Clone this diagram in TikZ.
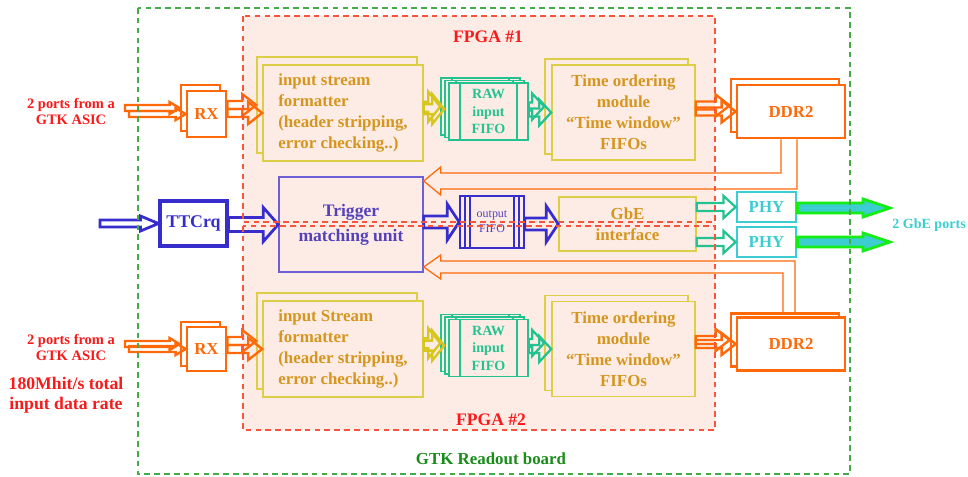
\documentclass[tikz,border=0pt]{standalone}
\usepackage{fontspec}
\setmainfont{Liberation Serif}
\usetikzlibrary{calc, positioning}
\definecolor{orng}{RGB}{255,105,10}
\definecolor{redtxt}{RGB}{250,25,25}
\definecolor{redline}{RGB}{250,85,60}
\definecolor{pinkbg}{RGB}{253,236,230}
\definecolor{bordyel}{RGB}{222,206,70}
\definecolor{arryel}{RGB}{215,198,30}
\definecolor{txtgold}{RGB}{214,150,30}
\definecolor{fifoteal}{RGB}{35,195,145}
\definecolor{blu}{RGB}{55,45,205}
\definecolor{purp}{RGB}{110,95,215}
\definecolor{purptxt}{RGB}{85,65,185}
\definecolor{cyn}{RGB}{60,205,210}
\definecolor{brightgreen}{RGB}{20,238,20}
\definecolor{boardgreen}{RGB}{25,140,25}
\definecolor{boardline}{RGB}{70,170,70}
\def\pxu{0.71131pt}
\newcommand{\fatarrow}[6][]{%
	\draw[#1] let \p1=(#2), \p2=(#3) in
		(\x1,{\y2+#4*\pxu}) -- ({\x2-#6*\pxu},{\y2+#4*\pxu}) -- ({\x2-#6*\pxu},{\y2+#5*\pxu})
		-- (\x2,\y2) -- ({\x2-#6*\pxu},{\y2-#5*\pxu}) -- ({\x2-#6*\pxu},{\y2-#4*\pxu})
		-- (\x1,{\y2-#4*\pxu}) -- cycle;}

\begin{document}
\begin{tikzpicture}[x=0.025cm, y=-0.025cm]
	\tikzstyle{every node}=[font=\bfseries\fontsize{12}{15}\selectfont, inner sep=0pt, align=center]
	\tikzstyle{fpgalabel}=[text=redtxt, font=\bfseries\fontsize{12.5}{15}\selectfont]
	\tikzstyle{boardlabel}=[text=boardgreen, font=\bfseries\fontsize{12}{15}\selectfont]
	\tikzstyle{redlabel}=[text=redtxt, font=\bfseries\fontsize{10.3}{12}\selectfont]
	\tikzstyle{ratelabel}=[text=redtxt, font=\bfseries\fontsize{12.6}{14.5}\selectfont]
	\tikzstyle{gbelabel}=[text=cyn, font=\bfseries\fontsize{10}{12}\selectfont]
	\tikzstyle{rxbox}=[draw=orng, line width=2pt, fill=white, text=orng, minimum width=0.975cm, minimum height=1.15cm]
	\tikzstyle{fmtbox}=[draw=bordyel, line width=1.1pt, fill=pinkbg, text=txtgold, align=left, minimum width=4cm, minimum height=2.4cm]
	\tikzstyle{tobox}=[draw=bordyel, line width=1.1pt, fill=pinkbg, text=txtgold, minimum width=3.575cm, minimum height=2.375cm]
	\tikzstyle{ddrbox}=[draw=orng, line width=2pt, fill=white, text=orng, minimum width=2.7cm, minimum height=1.325cm]
	\tikzstyle{fifobox}=[draw=fifoteal, line width=1.1pt, fill=pinkbg, text=fifoteal, minimum width=1.975cm, minimum height=1.425cm,
		font=\bfseries\fontsize{10}{12.4}\selectfont,
		path picture={\draw[fifoteal, line width=1.1pt]
			([xshift=0.275cm]path picture bounding box.north west) -- ([xshift=0.275cm]path picture bounding box.south west)
			([xshift=-0.275cm]path picture bounding box.north east) -- ([xshift=-0.275cm]path picture bounding box.south east);}]
	\tikzstyle{ttcbox}=[draw=blu, line width=2.2pt, fill=white, text=blu, minimum width=1.675cm, minimum height=1.125cm, font=\bfseries\fontsize{12.7}{15}\selectfont]
	\tikzstyle{trigbox}=[draw=purp, line width=1pt, fill=pinkbg, text=purptxt, minimum width=3.6cm, minimum height=2.375cm, font=\bfseries\fontsize{12.5}{17.8}\selectfont]
	\tikzstyle{ofifobox}=[draw=blu, line width=1.1pt, fill=pinkbg, text=purptxt, minimum width=1.6cm, minimum height=1.3cm,
		font=\fontsize{8.5}{10.7}\selectfont,
		path picture={\draw[blu, line width=0.9pt]
			([xshift=0.125cm]path picture bounding box.north west) -- ([xshift=0.125cm]path picture bounding box.south west)
			([xshift=0.25cm]path picture bounding box.north west) -- ([xshift=0.25cm]path picture bounding box.south west)
			([xshift=-0.125cm]path picture bounding box.north east) -- ([xshift=-0.125cm]path picture bounding box.south east)
			([xshift=-0.25cm]path picture bounding box.north east) -- ([xshift=-0.25cm]path picture bounding box.south east);}]
	\tikzstyle{gbebox}=[draw=bordyel, line width=1.1pt, fill=pinkbg, text=txtgold, minimum width=3.425cm, minimum height=1.35cm]
	\tikzstyle{phybox}=[draw=cyn, line width=2pt, fill=white, text=cyn, minimum width=1.475cm, minimum height=0.75cm]
	\tikzstyle{oarrow}=[draw=orng, line width=1.7pt]
	\tikzstyle{yarrow}=[draw=arryel, line width=1.7pt]
	\tikzstyle{tarrow}=[draw=fifoteal, line width=1.6pt]
	\tikzstyle{barrow}=[draw=blu, line width=2pt]
	\tikzstyle{garrow}=[draw=brightgreen, fill=cyn, line width=2pt]
	\tikzstyle{fb}=[draw=orng, line width=0.9pt]
	\tikzstyle{fpgaline}=[draw=redline, line width=1pt, dash pattern=on 4pt off 3pt]
	\tikzstyle{boardline}=[draw=boardline, line width=1pt, dash pattern=on 4pt off 3pt]

	\useasboundingbox (0,0) rectangle (968,476);
	\fill[pinkbg] (243,16) rectangle (715,430);

	\node[fpgalabel] (fpga1) at (488,37) {FPGA \#1};
	\node[fpgalabel] (fpga2) at (491,420) {FPGA \#2};
	\node[boardlabel] (board) at (491,459) {GTK Readout board};
	\node[redlabel] (ports1) at (71,111.5) {2 ports from a\\GTK ASIC};
	\node[redlabel] (ports2) at (71,347.5) {2 ports from a\\GTK ASIC};
	\node[ratelabel] (rate) at (66,395.5) {180Mhit/s total\\input data rate};
	\node[gbelabel] (gbeports) at (929,225) {2 GbE ports};

	\node[ttcbox] (ttc) at (193.5,223.5) {TTCrq};
	\node[trigbox] (trig) at (351,224.5) {Trigger\\matching unit};
	\node[ofifobox] (ofifo) at (492,222) {output\\FIFO};
	\node[gbebox] (gbe) at (627.5,224) {GbE\\interface};
	\node[phybox] (phy1) at (766.5,207) {PHY};
	\node[phybox] (phy2) at (766.5,242) {PHY};

	\node[ddrbox] (ddr1s) at (785,105.5) {};
	\node[ddrbox] (ddr1) at (791,111.5) {DDR2};
	\node[ddrbox] (ddr2s) at (785,340) {};
	\node[ddrbox] (ddr2) at (791,344) {DDR2};

	\draw[fb] ($(ddr1.south)+(-10,0)$) |- ($(trig.east)+(17,-51.5)$) -- ++(0,-6) -- ($(trig.east)+(0,-43.5)$)
		-- ++(17,14) -- ++(0,-6) -| ($(ddr1.south)+(6,0)$);
	\draw[fb] ($(ddr2s.north)+(10,0)$) |- ($(trig.east)+(17,36.5)$) -- ++(0,-6) -- ($(trig.east)+(0,42.5)$)
		-- ++(17,12) -- ++(0,-6) -| ($(ddr2s.north)+(-2,0)$);

	\node[rxbox] (rx1s) at (200.5,108) {};
	\node[rxbox] (rx1) at (206.5,114) {RX};
	\node[rxbox, minimum height=1.1cm] (rx2s) at (200.5,344) {};
	\node[rxbox, minimum height=1.1cm] (rx2) at (206.5,349) {RX};

	\node[fmtbox] (fmt1s) at (337,105) {};
	\node[fmtbox] (fmt1) at (343,113) {input stream\\formatter\\(header stripping,\\error checking..)};
	\node[fmtbox] (fmt2s) at (337,341) {};
	\node[fmtbox] (fmt2) at (343,349) {input Stream\\formatter\\(header stripping,\\error checking..)};

	\coordinate (raw1c) at (488.5,111.5);
	\coordinate (raw2c) at (488.5,348);
	\foreach \d in {8,4} {
		\node[fifobox] (raw1s\d) at ($(raw1c)+(-\d,-0.6*\d)$) {};
		\node[fifobox] (raw2s\d) at ($(raw2c)+(-\d,-0.6*\d)$) {};
	}
	\node[fifobox] (raw1) at (raw1c) {RAW\\input\\FIFO};
	\node[fifobox] (raw2) at (raw2c) {RAW\\input\\FIFO};

	\node[tobox] (to1s) at (616.5,106.5) {};
	\node[tobox] (to1) at (623.5,112.5) {Time ordering\\module\\``Time window''\\FIFOs};
	\node[tobox] (to2s) at (616.5,343) {};
	\node[tobox] (to2) at (623.5,349) {Time ordering\\module\\``Time window''\\FIFOs};

	\coordinate (in1a) at (125,108);
	\coordinate (in1b) at (129,114);
	\coordinate (in2a) at (125,344);
	\coordinate (in2b) at (129,349);
	\coordinate (inttc) at (100,223);
	\coordinate (out1) at (890,208);
	\coordinate (out2) at (890,242);

	\fatarrow[oarrow]{in1a}{rx1s.west}{3}{6}{10}
	\fatarrow[oarrow]{in1b}{rx1.west}{3}{6}{10}
	\fatarrow[oarrow]{in2a}{rx2s.west}{3}{6}{10}
	\fatarrow[oarrow]{in2b}{rx2.west}{3}{6}{10}
	\fatarrow[oarrow]{rx1.east}{fmt1s.west}{4}{11}{14}
	\fatarrow[oarrow]{rx1.east}{fmt1.west}{4}{11}{14}
	\fatarrow[oarrow]{rx2.east}{fmt2s.west}{4}{11}{14}
	\fatarrow[oarrow]{rx2.east}{fmt2.west}{4}{11}{14}
	\fatarrow[yarrow]{fmt1.east}{raw1s8.west}{5}{15}{12}
	\fatarrow[yarrow]{fmt1.east}{raw1s4.west}{5}{15}{12}
	\fatarrow[yarrow]{fmt2.east}{raw2s8.west}{5}{15}{12}
	\fatarrow[yarrow]{fmt2.east}{raw2s4.west}{5}{15}{12}
	\fatarrow[tarrow]{raw1.east}{to1s.west}{4}{13}{12}
	\fatarrow[tarrow]{raw1.east}{to1.west}{4}{13}{12}
	\fatarrow[tarrow]{raw2.east}{to2s.west}{4}{13}{12}
	\fatarrow[tarrow]{raw2.east}{to2.west}{4}{13}{12}
	\fatarrow[oarrow]{to1.east}{ddr1s.west}{4}{11}{14}
	\fatarrow[oarrow]{to1.east}{ddr1.west}{4}{11}{14}
	\fatarrow[oarrow]{to2.east}{ddr2s.west}{4}{11}{14}
	\fatarrow[oarrow]{to2.east}{ddr2.west}{4}{11}{14}

	\fatarrow[barrow]{inttc}{ttc.west}{3.5}{7.5}{18}
	\fatarrow[barrow]{ttc.east}{trig.west}{7}{17}{15}
	\fatarrow[barrow]{trig.east}{ofifo.west}{6}{18}{12}
	\fatarrow[barrow]{ofifo.east}{gbe.west}{6}{18}{12}
	\fatarrow[tarrow]{gbe.east}{phy1.west}{4}{11}{12}
	\fatarrow[tarrow]{gbe.east}{phy2.west}{4}{11}{12}
	\fatarrow[garrow]{phy1.east}{out1}{5}{9}{27}
	\fatarrow[garrow]{phy2.east}{out2}{5}{9}{27}

	\draw[fpgaline] (243,16) rectangle (715,222);
	\draw[fpgaline] (243,226) rectangle (715,430);
	\draw[boardline] (138,8) rectangle (850,474);
\end{tikzpicture}
\end{document}
